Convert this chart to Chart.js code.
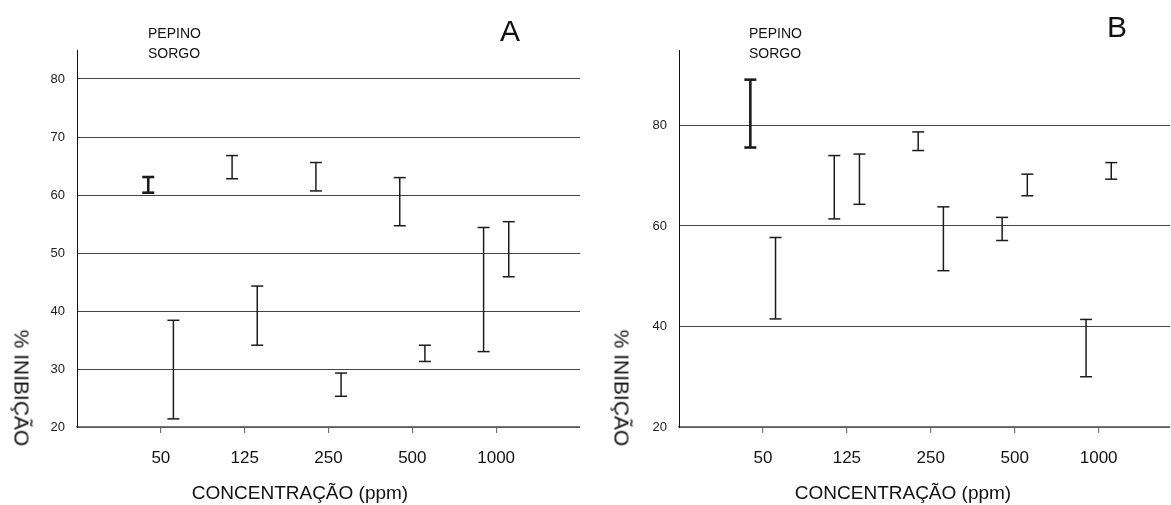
<!DOCTYPE html>
<html>
<head>
<meta charset="utf-8">
<script src="https://cdn.jsdelivr.net/npm/chart.js@4.4.1/dist/chart.umd.min.js"></script>
<style>
  body { margin: 0; background: #fff; font-family: "Liberation Sans", Arial, sans-serif; }
  #wrap { position: relative; width: 1171px; height: 505px; overflow: hidden; }
  canvas { position: absolute; top: 0; }
  .lbl { position: absolute; color: #111; white-space: nowrap; line-height: 1; }
  .legend { font-size: 14px; }
  .panel { font-size: 30px; transform: translateX(-50%); }
  .xtitle { font-size: 19px; transform: translateX(-50%); }
  .ytitle { font-size: 21px; transform: translate(-50%, -50%) rotate(90deg); }
</style>
</head>
<body>
<div id="wrap">
  <canvas id="chartA" width="590" height="505" style="left:0"></canvas>
  <canvas id="chartB" width="581" height="505" style="left:590px"></canvas>

  <div class="lbl legend" style="left:148px; top:26px">PEPINO</div>
  <div class="lbl legend" style="left:148px; top:46px">SORGO</div>
  <div class="lbl legend" style="left:749px; top:26px">PEPINO</div>
  <div class="lbl legend" style="left:749px; top:46px">SORGO</div>

  <div class="lbl panel" style="left:510px; top:16px">A</div>
  <div class="lbl panel" style="left:1117px; top:12px">B</div>

  <div class="lbl xtitle" style="left:300px; top:483px">CONCENTRAÇÃO (ppm)</div>
  <div class="lbl xtitle" style="left:903px; top:483px">CONCENTRAÇÃO (ppm)</div>

  <div class="lbl ytitle" style="left:22px; top:388px">% INIBIÇÃO</div>
  <div class="lbl ytitle" style="left:622px; top:388px">% INIBIÇÃO</div>
</div>

<script>
// concentrations (ppm)
const concentrations = ["50", "125", "250", "500", "1000"];

// panel A - error bar limits (% inhibition)
const pepinoLowA  = [60.4, 62.8, 60.7, 54.7, 33.0];
const pepinoHighA = [63.1, 66.8, 65.6, 63.0, 54.4];
const sorgoLowA   = [21.4, 34.1, 25.3, 31.3, 45.9];
const sorgoHighA  = [38.4, 44.3, 29.3, 34.1, 55.4];
const yTicksA = [20, 30, 40, 50, 60, 70, 80];

// panel B
const pepinoLowB  = [75.6, 61.4, 75.0, 57.1, 30.0];
const pepinoHighB = [89.1, 74.0, 78.7, 61.7, 41.4];
const sorgoLowB   = [41.5, 64.3, 51.1, 66.0, 69.3];
const sorgoHighB  = [57.7, 74.3, 63.8, 70.3, 72.6];
const yTicksB = [20, 40, 60, 80];

const OFFSET = 0.15;
const barColor = '#1c1c1c';

function errorPoints(lows, highs, off) {
  const pts = [];
  lows.forEach((lo, i) => {
    const x = i + 1 + off;
    pts.push({ x: x, y: lo }, { x: x, y: highs[i] }, { x: x, y: null });
  });
  return pts;
}

function errorDataset(label, lows, highs, off, boldFirst) {
  return {
    label: label,
    data: errorPoints(lows, highs, off),
    showLine: true,
    spanGaps: false,
    borderColor: barColor,
    borderWidth: 1.5,
    segment: {
      borderWidth: ctx => (boldFirst && ctx.p0DataIndex === 0) ? 2.6 : 1.5
    },
    pointStyle: 'line',
    pointRadius: 6,
    pointHoverRadius: 6,
    pointBorderColor: barColor,
    pointBorderWidth: ctx => (boldFirst && ctx.dataIndex < 2) ? 2.6 : 1.5
  };
}

function makeChart(id, opts) {
  const ctx = document.getElementById(id).getContext('2d');
  return new Chart(ctx, {
    type: 'scatter',
    data: {
      datasets: [
        errorDataset('PEPINO', opts.pepLow, opts.pepHigh, -OFFSET, true),
        errorDataset('SORGO', opts.sorLow, opts.sorHigh, OFFSET, false)
      ]
    },
    options: {
      responsive: false,
      animation: false,
      devicePixelRatio: 1,
      layout: {
        autoPadding: false,
        padding: { top: 50, right: opts.padRight, left: 0, bottom: 0 }
      },
      plugins: { legend: { display: false }, tooltip: { enabled: false } },
      scales: {
        x: {
          type: 'linear',
          min: 0,
          max: opts.xMax,
          afterBuildTicks: s => { s.ticks = concentrations.map((c, i) => ({ value: i + 1 })); },
          afterFit: s => { s.height = 78; },
          grid: { drawOnChartArea: false, tickLength: 6, color: '#777', lineWidth: 1.2 },
          border: { color: '#777', width: 1.5 },
          ticks: {
            callback: v => concentrations[v - 1],
            color: '#111',
            font: { family: '"Liberation Sans", Arial, sans-serif', size: 17 },
            padding: 15,
            maxRotation: 0
          }
        },
        y: {
          min: 20,
          max: opts.yMax,
          afterBuildTicks: s => { s.ticks = opts.yTicks.map(v => ({ value: v })); },
          afterFit: s => { s.width = opts.axisWidth; },
          grid: { color: '#444', lineWidth: 1, drawTicks: false },
          border: { color: '#111', width: 1 },
          ticks: {
            color: '#222',
            font: { family: '"Liberation Sans", Arial, sans-serif', size: 13 },
            padding: 12
          }
        }
      }
    }
  });
}

makeChart('chartA', {
  pepLow: pepinoLowA, pepHigh: pepinoHighA, sorLow: sorgoLowA, sorHigh: sorgoHighA,
  yTicks: yTicksA, yMax: 85, xMax: 6, axisWidth: 77, padRight: 10
});
makeChart('chartB', {
  pepLow: pepinoLowB, pepHigh: pepinoHighB, sorLow: sorgoLowB, sorHigh: sorgoHighB,
  yTicks: yTicksB, yMax: 95, xMax: 5.85, axisWidth: 89, padRight: 1
});
</script>
</body>
</html>
